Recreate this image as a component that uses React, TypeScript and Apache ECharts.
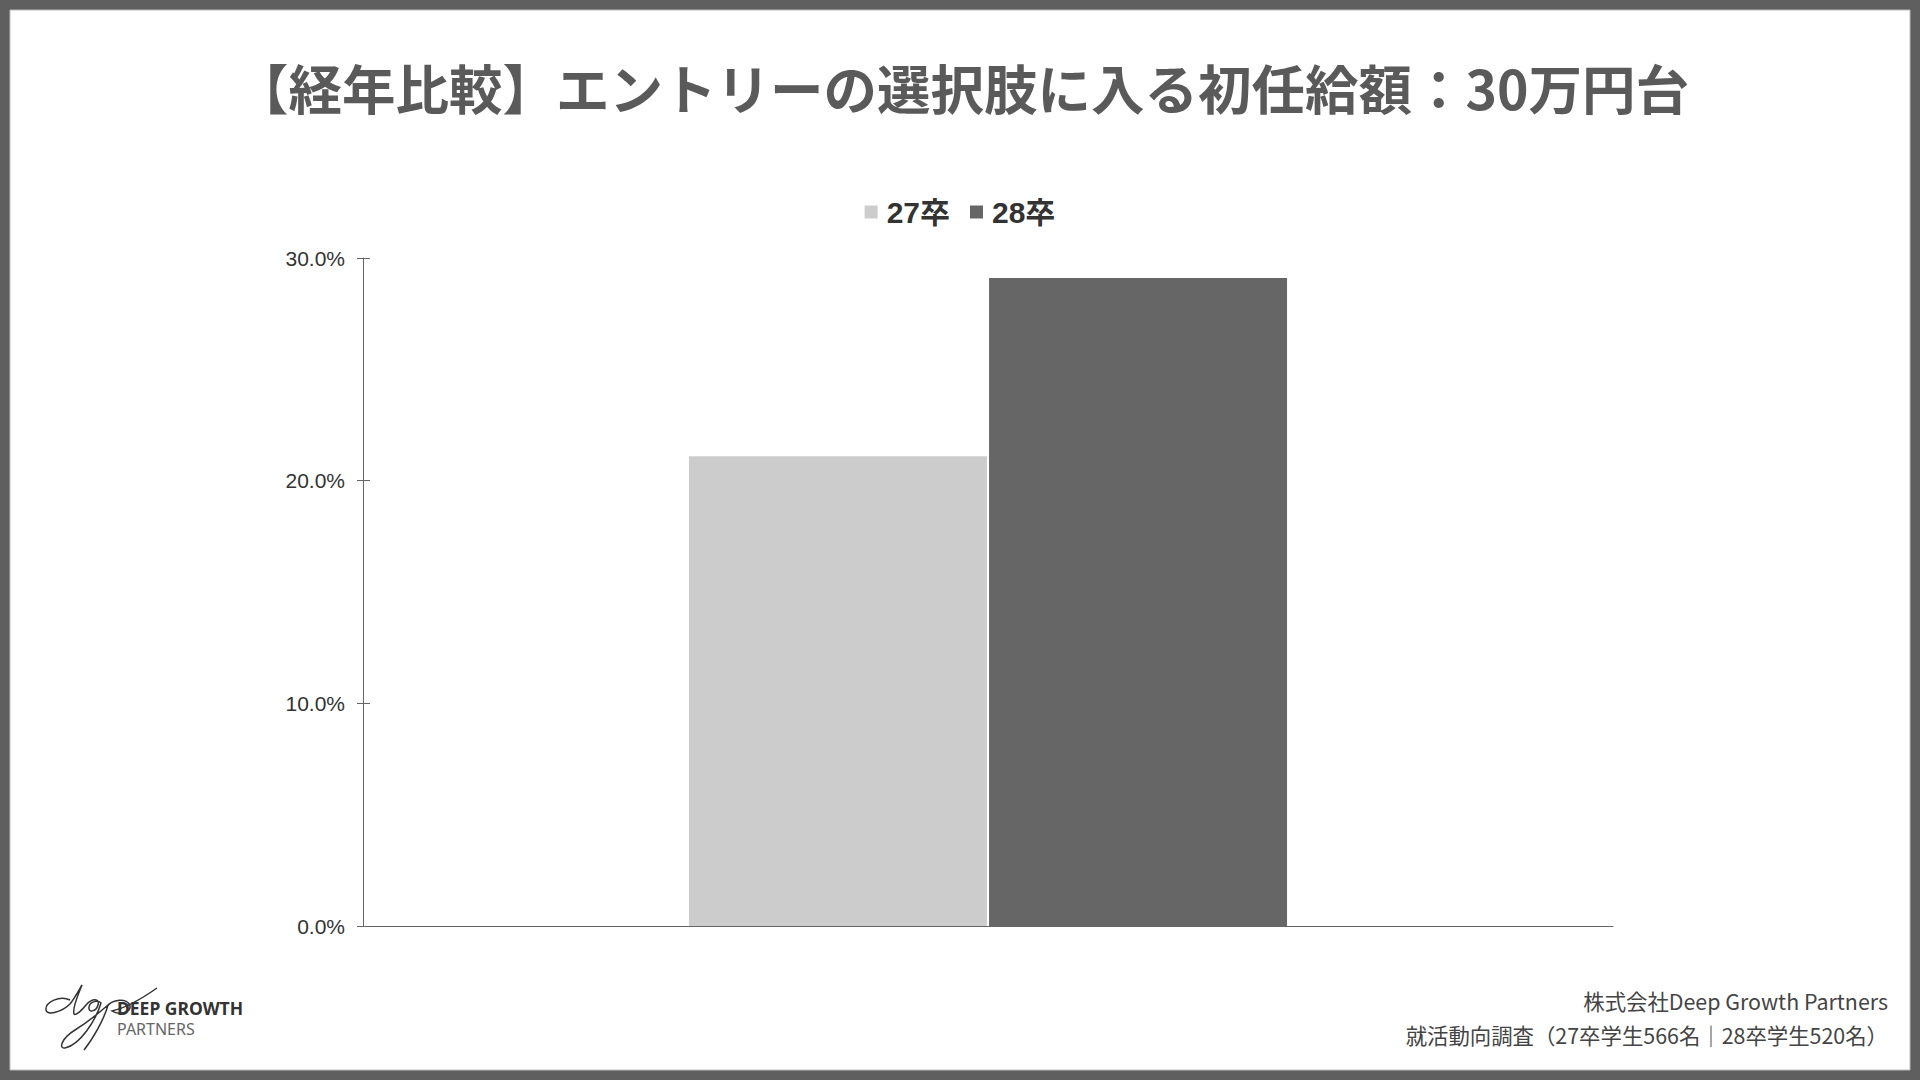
import React, { useEffect, useRef } from "react";
import * as echarts from "echarts";

const categories = ["初任給30万円台"];
const seriesNames = ["27卒", "28卒"];
const values27 = [21.1];
const values28 = [29.1];
const seriesColors = ["#cccccc", "#666666"];
const yTicks = { min: 0, max: 30, interval: 10 };

const titleText = "【経年比較】エントリーの選択肢に入る初任給額：30万円台";
const footerLines = ["株式会社Deep Growth Partners", "就活動向調査（27卒学生566名｜28卒学生520名）"];

const logoPath =
  "M 70 1000 C 60 995 45 1002 46 1010 C 47 1016 62 1012 70 1004 C 76 996 80 988 82 985 C 78 995 72 1008 74 1014 C 76 1016 82 1010 86 1005 " +
  "C 92 998 100 998 98 1005 C 96 1012 88 1013 89 1007 C 90 1001 98 1000 101 1003 C 96 1020 80 1045 65 1048 C 58 1049 62 1038 75 1030 C 88 1022 100 1012 108 1005 " +
  "C 104 1020 92 1040 84 1050 M 106 1008 C 112 998 128 998 130 1006 C 131 1013 118 1015 112 1011 C 125 1008 140 1000 157 988";

let registered = false;

export default function App() {
  const ref = useRef<HTMLDivElement>(null);
  useEffect(() => {
    if (!ref.current) return;
    if (!registered) {
      echarts.graphic.registerShape("logo", echarts.graphic.extendPath(logoPath, {}));
      registered = true;
    }
    const chart = echarts.init(ref.current, undefined, { renderer: "svg" });
    const fmt = (v: number) => v.toFixed(1) + "%";
    const option: any = {
      animation: false,
      backgroundColor: "#5f5f5f",
      graphic: [
        {
          type: "rect",
          shape: { x: 10, y: 10, width: 1900, height: 1060 },
          style: { fill: "#ffffff", stroke: "#bdbdbd", lineWidth: 1 },
          z: -10,
        },
        {
          type: "text",
          x: 962,
          y: 86,
          style: {
            text: titleText,
            fontSize: 53.5,
            fontWeight: "bold",
            fill: "#5a5a5a",
            fontFamily: "Noto Sans CJK JP",
            align: "center",
            verticalAlign: "middle",
          },
        },
        {
          type: "text",
          x: 1888,
          y: 1000,
          style: {
            text: footerLines[0],
            fontSize: 21.4,
            fill: "#444444",
            fontFamily: "Noto Sans CJK JP",
            align: "right",
            verticalAlign: "middle",
          },
        },
        {
          type: "text",
          x: 1888,
          y: 1034,
          style: {
            text: footerLines[1],
            fontSize: 21.4,
            fill: "#444444",
            fontFamily: "Noto Sans CJK JP",
            align: "right",
            verticalAlign: "middle",
          },
        },
        {
          type: "logo",
          x: 0,
          y: 0,
          scaleX: 1,
          scaleY: 1,
          style: { fill: null, stroke: "#333333", lineWidth: 1.5 },
        },
        {
          type: "text",
          x: 117,
          y: 1008,
          style: {
            text: "DEEP GROWTH",
            fontSize: 17.5,
            lineHeight: 18,
            fontWeight: "bold",
            fill: "#333333",
            fontFamily: "Noto Sans",
            verticalAlign: "middle",
          },
        },
        {
          type: "text",
          x: 117,
          y: 1029,
          style: {
            text: "PARTNERS",
            fontSize: 16,
            lineHeight: 16,
            fill: "#666666",
            fontFamily: "Noto Sans",
            verticalAlign: "middle",
          },
        },
      ],
      legend: {
        data: seriesNames,
        top: 192,
        left: "center",
        icon: "rect",
        itemWidth: 13,
        itemHeight: 13,
        itemGap: 20,
        textStyle: {
          fontSize: 30,
          fontWeight: "bold",
          color: "#333333",
          fontFamily: "Liberation Sans, Noto Sans CJK JP",
          padding: [0, 0, 0, 4],
        },
      },
      grid: { left: 363, right: 307, top: 258, bottom: 154, containLabel: false },
      xAxis: {
        type: "category",
        data: categories,
        axisLine: { show: true, lineStyle: { color: "#666666", width: 1 } },
        axisTick: { show: false },
        axisLabel: { show: false },
      },
      yAxis: [
        {
          type: "value",
          min: yTicks.min,
          max: yTicks.max,
          interval: yTicks.interval,
          axisLine: { show: true, lineStyle: { color: "#666666", width: 1 } },
          axisTick: { show: true, length: 6, lineStyle: { color: "#666666" } },
          splitLine: { show: false },
          axisLabel: {
            formatter: fmt,
            fontSize: 21,
            color: "#333333",
            margin: 18,
            fontFamily: "Liberation Sans",
          },
        },
        {
          type: "value",
          position: "left",
          min: yTicks.min,
          max: yTicks.max,
          interval: yTicks.interval,
          axisLine: { show: false },
          axisTick: { show: true, inside: true, length: 7, lineStyle: { color: "#666666" } },
          splitLine: { show: false },
          axisLabel: { show: false },
        },
      ],
      series: [
        {
          name: seriesNames[0],
          type: "bar",
          data: values27,
          barWidth: 298,
          barGap: "0.7%",
          itemStyle: { color: seriesColors[0] },
        },
        {
          name: seriesNames[1],
          type: "bar",
          data: values28,
          barWidth: 298,
          barGap: "0.7%",
          itemStyle: { color: seriesColors[1] },
        },
      ],
    };
    chart.setOption(option);
    return () => chart.dispose();
  }, []);
  return (
    <div
      ref={ref}
      style={{ position: "fixed", left: 0, top: 0, width: 1920, height: 1080 }}
    />
  );
}
